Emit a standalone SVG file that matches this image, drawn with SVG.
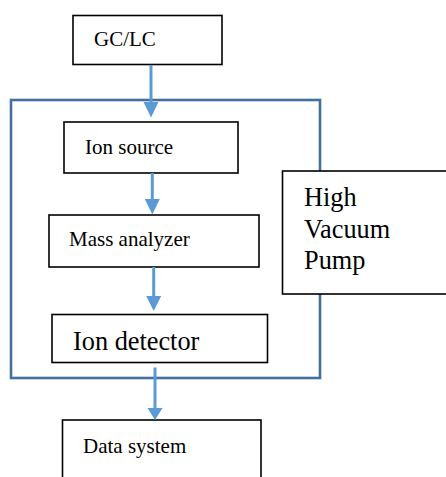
<svg xmlns="http://www.w3.org/2000/svg" width="446" height="477" viewBox="0 0 446 477">
<style>
.box{fill:#fff;stroke:#000;stroke-width:1.6}
.t{font-family:"Liberation Serif","Times New Roman",serif;fill:#000}
.s{font-size:21px}
.l{font-size:26.3px}
.c{stroke:#5b9bd5;stroke-width:3;fill:none}
.h{fill:#5b9bd5}
</style>
<rect width="446" height="477" fill="#fff"/>
<g id="container">
<rect x="11" y="100" width="309" height="278" fill="none" stroke="#41719c" stroke-width="2.6"/>
</g>
<g id="gclc"><rect class="box" x="73" y="15.5" width="149" height="49"/><text class="t s" x="94" y="45.5">GC/LC</text></g>
<g id="ionsource"><rect class="box" x="64" y="122" width="174" height="51"/><text class="t s" x="85" y="153.5">Ion source</text></g>
<g id="massanalyzer"><rect class="box" x="49" y="215" width="210" height="52"/><text class="t s" x="69" y="246">Mass analyzer</text></g>
<g id="iondetector"><rect class="box" x="52" y="314.5" width="215.5" height="48"/><text class="t l" x="73" y="350">Ion detector</text></g>
<g id="pump"><rect class="box" x="282.5" y="171" width="170" height="123"/><text class="t l" x="304" y="206">High</text><text class="t l" x="304" y="237.5">Vacuum</text><text class="t l" x="304" y="269">Pump</text></g>
<g id="datasystem"><rect class="box" x="62.5" y="420" width="198.5" height="70"/><text class="t s" x="83" y="452.5">Data system</text></g>
<g id="connectors">
<line class="c" x1="151" y1="65" x2="151" y2="103"/><polygon class="h" points="143.5,102 158.5,102 151,117.5"/>
<line class="c" x1="152.3" y1="173" x2="152.3" y2="200"/><polygon class="h" points="144.8,199 159.8,199 152.3,214.5"/>
<line class="c" x1="153.7" y1="267" x2="153.7" y2="297"/><polygon class="h" points="146.2,296 161.2,296 153.7,311"/>
<line class="c" x1="155" y1="367.5" x2="155" y2="409"/><polygon class="h" points="147.5,408 162.5,408 155,420"/>
</g>
</svg>
